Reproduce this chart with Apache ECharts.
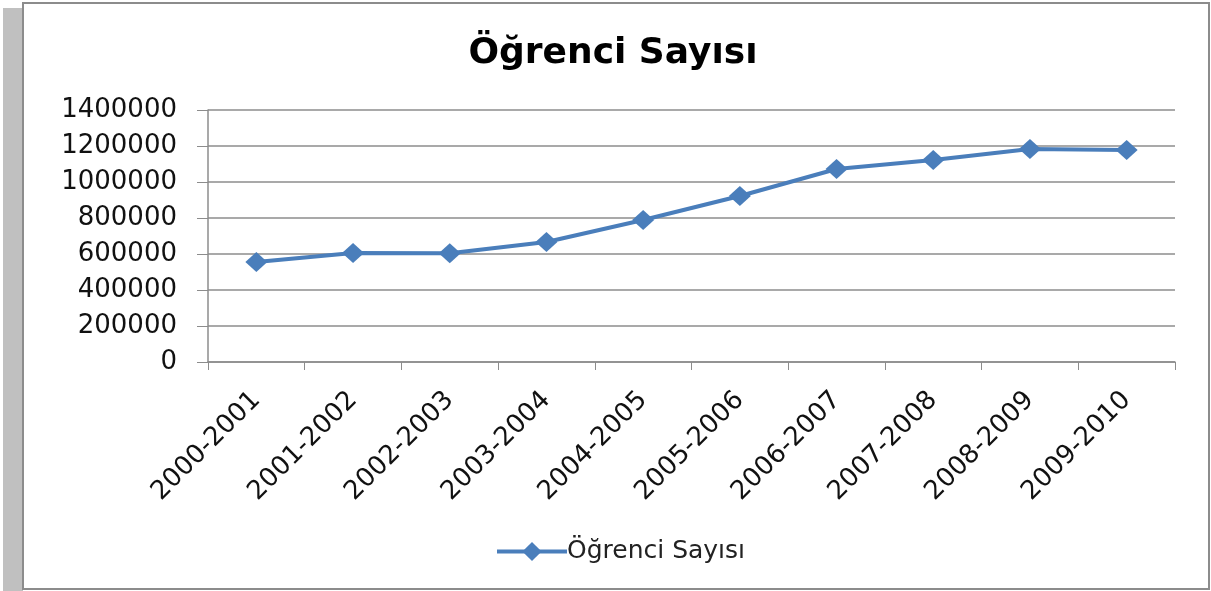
<!DOCTYPE html>
<html>
<head>
<meta charset="utf-8">
<script src="https://cdn.jsdelivr.net/npm/echarts@6/dist/echarts.min.js"></script>
<style>
    html, body { margin: 0; padding: 0; background: #fff; }
    #shadow { position: absolute; left: 3px; top: 8px; width: 20px; height: 583px; background: #c0c0c0; }
    #frame { position: absolute; left: 22px; top: 2px; width: 1184px; height: 584px; border: 2px solid #8c8c8c; background: #fff; }
    #main { position: absolute; left: 0; top: 0; width: 1211px; height: 591px; }
</style>
</head>
<body>
<div id="shadow"></div>
<div id="frame"></div>
<div id="main"></div>
<script>
var years = ['2000-2001', '2001-2002', '2002-2003', '2003-2004', '2004-2005',
    '2005-2006', '2006-2007', '2007-2008', '2008-2009', '2009-2010'];
var ogrenci = [555000, 605000, 604000, 667000, 789000, 922000, 1072000, 1122000, 1183000, 1178000];
var seriesName = 'Öğrenci Sayısı';

var myChart = echarts.init(document.getElementById('main'));
var option = {
    backgroundColor: 'transparent',
    textStyle: { fontFamily: 'DejaVu Sans' },
    title: {
        text: 'Öğrenci Sayısı',
        top: 31,
        left: 608,
        textAlign: 'center',
        textStyle: { fontSize: 36, fontWeight: 'bold', color: '#000', fontFamily: 'DejaVu Sans' }
    },
    legend: {
        top: 534,
        left: 490,
        itemWidth: 70,
        itemHeight: 24,
        itemGap: 4,
        textStyle: { fontSize: 25, color: '#222', padding: [0, 0, 0, -5] },
        data: [{
            name: seriesName,
            lineStyle: { width: 4, color: '#4a7ebb' }
        }]
    },
    grid: { left: 208, right: 36, top: 110, bottom: 229 },
    xAxis: {
        type: 'category',
        data: years,
        boundaryGap: true,
        axisLine: { lineStyle: { color: '#8c8c8c', width: 1.5 } },
        axisTick: { show: true, length: 8, lineStyle: { color: '#8c8c8c' } },
        axisLabel: { rotate: 45, fontSize: 26, color: '#111', margin: 34, interval: 0 }
    },
    yAxis: {
        type: 'value',
        min: 0,
        max: 1400000,
        interval: 200000,
        axisLine: { show: true, lineStyle: { color: '#8c8c8c', width: 1.5 } },
        axisTick: { show: true, length: 11, lineStyle: { color: '#8c8c8c' } },
        axisLabel: {
            fontSize: 26, color: '#111', margin: 31,
            formatter: function (v) { return String(v); }
        },
        splitLine: { lineStyle: { color: '#8c8c8c', width: 1.5 } }
    },
    series: [{
        name: seriesName,
        type: 'line',
        data: ogrenci,
        symbol: 'diamond',
        symbolSize: [22, 20],
        color: '#4a7ebb',
        lineStyle: { width: 4, color: '#4a7ebb' },
        itemStyle: { color: '#4a7ebb' }
    }]
};
myChart.setOption(option);
</script>
</body>
</html>
